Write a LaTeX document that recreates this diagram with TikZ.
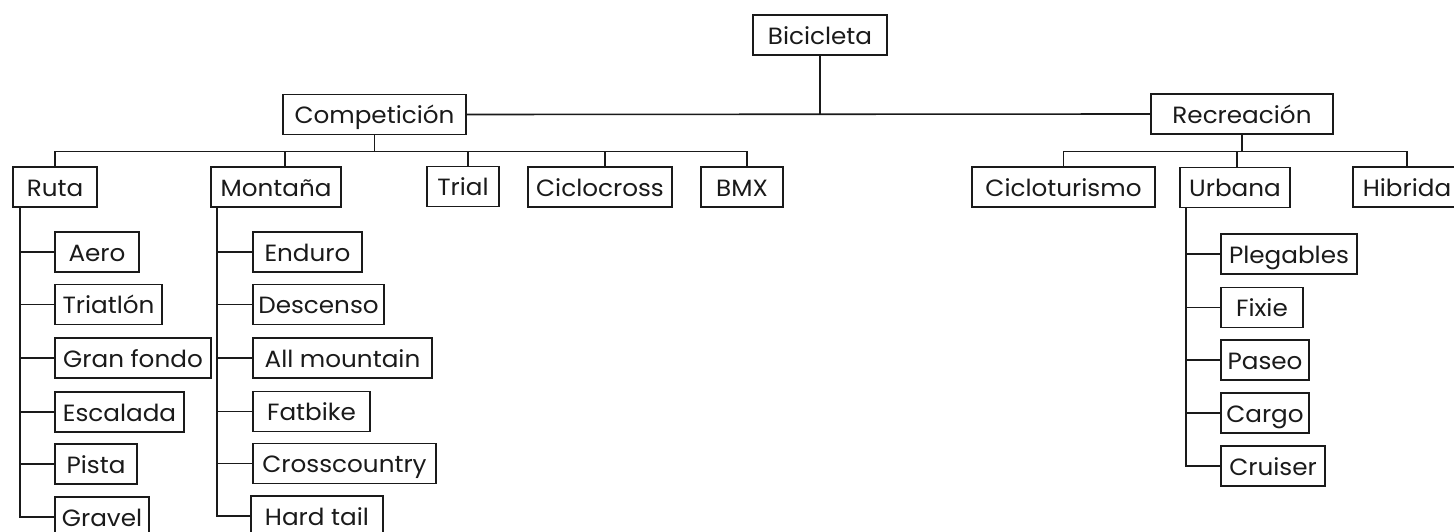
\documentclass[tikz,border=0pt]{standalone}
\usepackage{fontspec}
\setmainfont[FakeStretch=1.05]{Poppins}
\usetikzlibrary{calc}
\definecolor{ink}{HTML}{1A1A1A}
\tikzset{
  bx/.style={draw=ink, line width=1.6pt, minimum height=40pt, inner sep=0pt, text=ink,
    text height=20pt, text depth=1.6pt, font=\fontsize{23.5}{27}\selectfont},
  ln/.style={draw=ink, line width=1.6pt}
}
\begin{document}
\begin{tikzpicture}[x=1pt,y=-1pt]
\clip (0,0) rectangle (1454,532);
\useasboundingbox (0,0) rectangle (1454,532);
% level 0/1
\node[bx, minimum width=134pt] (bici) at (820,35) {Bicicleta};
\node[bx, minimum width=183pt] (comp) at (374.5,114.5) {Competición};
\node[bx, minimum width=182pt] (recr) at (1242,114) {Recreación};
% level 2
\node[bx, minimum width=84pt] (ruta) at (55,187) {Ruta};
\node[bx, minimum width=130pt] (mont) at (276,187) {Montaña};
\node[bx, minimum width=72pt] (trial) at (463,186.5) {Trial};
\node[bx, minimum width=144pt] (ciclo) at (600,187) {Ciclocross};
\node[bx, minimum width=82pt] (bmx) at (742,187) {BMX};
\node[bx, minimum width=183pt] (ciclot) at (1063.5,187) {Cicloturismo};
\node[bx, minimum width=110pt] (urb) at (1235,187.5) {Urbana};
\node[bx, minimum width=108pt] (hib) at (1407,187) {Hibrida};
% Ruta children
\node[bx, minimum width=84pt] (aero) at (97,252) {Aero};
\node[bx, minimum width=107pt] (tria) at (108.5,304.5) {Triatlón};
\node[bx, minimum width=156pt] (gran) at (133,358) {Gran fondo};
\node[bx, minimum width=129pt] (esca) at (119.5,412) {Escalada};
\node[bx, minimum width=82pt] (pista) at (96,464) {Pista};
\node[bx, minimum width=94pt] (grav) at (102,517) {Gravel};
% Montana children
\node[bx, minimum width=109pt] (endu) at (307.5,252) {Enduro};
\node[bx, minimum width=131pt] (desc) at (318.5,304.5) {Descenso};
\node[bx, minimum width=179pt] (allm) at (342.5,358) {All mountain};
\node[bx, minimum width=117pt] (fat) at (311.5,411.5) {Fatbike};
\node[bx, minimum width=183pt] (cross) at (344.5,463.5) {Crosscountry};
\node[bx, minimum width=132pt] (hard) at (317,516) {Hard tail};
% Urbana children
\node[bx, minimum width=136pt] (pleg) at (1289,254) {Plegables};
\node[bx, minimum width=82pt] (fixie) at (1262,307.5) {Fixie};
\node[bx, minimum width=88pt] (paseo) at (1265,360) {Paseo};
\node[bx, minimum width=88pt] (cargo) at (1265,413) {Cargo};
\node[bx, minimum width=104pt] (crui) at (1273,466) {Cruiser};
% top connectors
\draw[ln] (comp.east) -- (recr.west);
\coordinate (j0) at (bici.south |- comp.east);
\draw[ln] (bici.south) -- (j0);
% competicion bus
\coordinate (cbus) at (374.5,151.5);
\coordinate (montT) at ($(mont.north)+(9,0)$);
\coordinate (trialT) at ($(trial.north)+(5,0)$);
\coordinate (cicloT) at ($(ciclo.north)+(5,0)$);
\coordinate (bmxT) at ($(bmx.north)+(5,0)$);
\draw[ln] (comp.south) -- (cbus);
\draw[ln] (ruta.north) -- (ruta.north |- cbus) -- (bmxT |- cbus) -- (bmxT);
\draw[ln] (montT) -- (montT |- cbus);
\draw[ln] (trialT) -- (trialT |- cbus);
\draw[ln] (cicloT) -- (cicloT |- cbus);
% recreacion bus
\coordinate (rbus) at (1242,151.5);
\coordinate (urbT) at ($(urb.north)+(2,0)$);
\draw[ln] (recr.south) -- (rbus);
\draw[ln] (ciclot.north) -- (ciclot.north |- rbus) -- (hib.north |- rbus) -- (hib.north);
\draw[ln] (urbT) -- (urbT |- rbus);
% Ruta trunk
\coordinate (rt) at ($(ruta.south west)+(8,0)$);
\draw[ln] (rt) |- (grav.west);
\foreach \n in {aero,tria,gran,esca,pista} \draw[ln] (\n.west) -- (\n.west -| rt);
% Montana trunk
\coordinate (mt) at ($(mont.south west)+(7,0)$);
\draw[ln] (mt) |- (hard.west);
\foreach \n in {endu,desc,allm,fat,cross} \draw[ln] (\n.west) -- (\n.west -| mt);
% Urbana trunk
\coordinate (ut) at ($(urb.south west)+(7,0)$);
\draw[ln] (ut) |- (crui.west);
\foreach \n in {pleg,fixie,paseo,cargo} \draw[ln] (\n.west) -- (\n.west -| ut);
\end{tikzpicture}
\end{document}
